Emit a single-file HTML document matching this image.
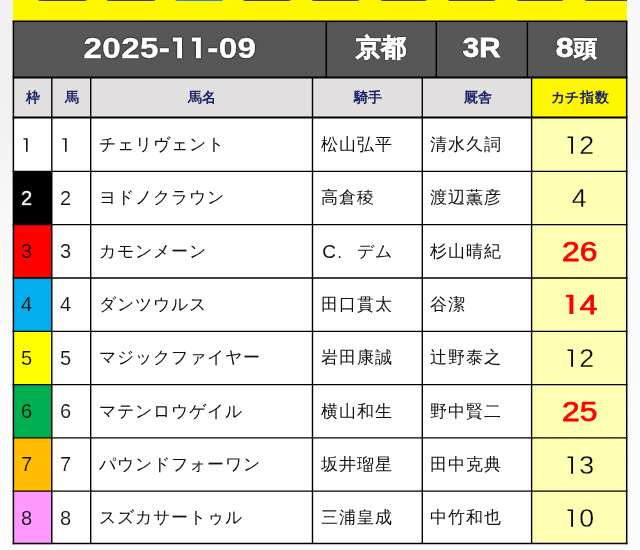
<!DOCTYPE html>
<html><head><meta charset="utf-8">
<style>
html,body{margin:0;padding:0;}
body{width:640px;height:550px;overflow:hidden;position:relative;
  background:linear-gradient(to right,transparent 13px,#fcfcfc 13px,#fcfcfc 627px,transparent 627px),linear-gradient(#f8f8f8 0px,#fafafa 300px,#fcfcfc 550px);
  font-family:"Liberation Sans",sans-serif;}
svg.g{position:absolute;left:0;top:0;}
.t{position:absolute;white-space:nowrap;line-height:1;}
.h1{color:#fff;font-weight:bold;text-align:center;text-shadow:0 0 1px #000,0 0 1px #000,0 0 2px #000;}
.h1 span{display:inline-block;}
.h2{color:#1a2466;font-weight:bold;font-size:14px;text-align:center;}
.n{color:#111;font-size:20px;}
.nm{color:#111;font-size:17px;letter-spacing:1.05px;}
.ix{font-size:25.5px;color:#000;text-align:center;left:532px;width:95px;-webkit-text-stroke:0.3px #ffffb4;}
.ix span{display:inline-block;transform:scaleX(1.05);}
.ix.red{font-size:28.5px;color:#f00;font-weight:normal;-webkit-text-stroke:0.75px #f00;}
.ix.red span{transform:scaleX(1.12);}
.one{width:.556em;height:.74em;vertical-align:baseline;fill:currentColor;overflow:visible;}
</style></head><body>
<svg class="g" width="640" height="550" viewBox="0 0 640 550">
<defs><linearGradient id="lg" x1="0" y1="0" x2="0" y2="550" gradientUnits="userSpaceOnUse"><stop offset="0" stop-color="#f0f0f1"/><stop offset="0.2" stop-color="#f1f1f1"/><stop offset="0.36" stop-color="#f7f7f7"/><stop offset="0.5" stop-color="#fafafa"/><stop offset="0.75" stop-color="#fdfdfd"/><stop offset="1" stop-color="#fdfdfd"/></linearGradient></defs>
<rect x="0" y="0" width="13.2" height="550" fill="url(#lg)"/>
<rect x="13" y="0" width="614" height="21.5" fill="#fff700"/>
<clipPath id="cb"><rect x="13" y="0" width="614" height="21"/></clipPath><g clip-path="url(#cb)">
<rect x="37.5" y="-6" width="50" height="7" rx="3" fill="#3c3c4a"/>
<rect x="106" y="-6" width="50" height="7" rx="3" fill="#3c3c4a"/>
<rect x="174.5" y="-6" width="49.5" height="7" rx="3" fill="#3b80f0"/>
<rect x="242.5" y="-6" width="49" height="7" rx="3" fill="#3c3c4a"/>
<rect x="311" y="-6" width="49" height="7" rx="3" fill="#3c3c4a"/>
<rect x="380" y="-6" width="47.5" height="7" rx="3" fill="#3c3c4a"/>
<rect x="447.5" y="-6" width="48.5" height="7" rx="3" fill="#3c3c4a"/>
<rect x="516" y="-6" width="48" height="7" rx="3" fill="#3c3c4a"/>
<rect x="584" y="-6" width="50" height="7" rx="3" fill="#3c3c4a"/>
</g>
<rect x="13" y="21" width="614" height="56.5" fill="#575757"/>
<rect x="13" y="77.5" width="614" height="40" fill="#e1dfe0"/>
<rect x="531.6" y="77.5" width="95.4" height="40" fill="#fff700"/>
<rect x="13" y="117.6" width="614" height="426" fill="#ffffff"/>
<rect x="531.6" y="117.6" width="95.4" height="426" fill="#ffffb4"/>
<rect x="13" y="117.6" width="38.8" height="53.3" fill="#ffffff"/>
<rect x="13" y="171.3" width="38.8" height="53.3" fill="#000000"/>
<rect x="13" y="224.6" width="38.8" height="53.3" fill="#ff0000"/>
<rect x="13" y="277.9" width="38.8" height="53.3" fill="#05aeee"/>
<rect x="13" y="331.2" width="38.8" height="53.3" fill="#ffff00"/>
<rect x="13" y="384.5" width="38.8" height="53.3" fill="#00b050"/>
<rect x="13" y="437.8" width="38.8" height="53.3" fill="#ffbc00"/>
<rect x="13" y="491.1" width="38.8" height="53.3" fill="#ff98ff"/>
<g stroke="#000" fill="none"><line x1="12.6" y1="21.30" x2="627.4" y2="21.30" stroke-width="1.5" stroke="#000018"/>
<line x1="12.6" y1="77.50" x2="627.4" y2="77.50" stroke-width="2" stroke="#000"/>
<line x1="12.6" y1="117.60" x2="627.4" y2="117.60" stroke-width="2" stroke="#000"/>
<line x1="12.6" y1="171.40" x2="627.4" y2="171.40" stroke-width="1.3" stroke="#000"/>
<line x1="12.6" y1="224.70" x2="627.4" y2="224.70" stroke-width="1.3" stroke="#000"/>
<line x1="12.6" y1="278.00" x2="627.4" y2="278.00" stroke-width="1.3" stroke="#000"/>
<line x1="12.6" y1="331.30" x2="627.4" y2="331.30" stroke-width="1.3" stroke="#000"/>
<line x1="12.6" y1="384.60" x2="627.4" y2="384.60" stroke-width="1.3" stroke="#000"/>
<line x1="12.6" y1="437.90" x2="627.4" y2="437.90" stroke-width="1.3" stroke="#000"/>
<line x1="12.6" y1="491.20" x2="627.4" y2="491.20" stroke-width="1.3" stroke="#000"/>
<line x1="12.6" y1="543.60" x2="627.4" y2="543.60" stroke-width="1.5" stroke="#000"/>
<line x1="13.4" y1="21" x2="13.4" y2="544.3" stroke-width="1.5"/>
<line x1="626.7" y1="21" x2="626.7" y2="544.3" stroke-width="1.5"/>
<line x1="326.3" y1="21" x2="326.3" y2="77.5" stroke-width="1.5"/>
<line x1="436.3" y1="21" x2="436.3" y2="77.5" stroke-width="1.5"/>
<line x1="527.4" y1="21" x2="527.4" y2="77.5" stroke-width="1.5"/>
<line x1="51.8" y1="77.5" x2="51.8" y2="544" stroke-width="1.4"/>
<line x1="90.7" y1="77.5" x2="90.7" y2="544" stroke-width="1.4"/>
<line x1="312.5" y1="77.5" x2="312.5" y2="544" stroke-width="1.4"/>
<line x1="422.3" y1="77.5" x2="422.3" y2="544" stroke-width="1.4"/>
<line x1="531.6" y1="77.5" x2="531.6" y2="544" stroke-width="1.4"/></g>
</svg>
<div id="tx" style="position:absolute;left:0;top:0;width:640px;height:550px;will-change:transform;">
<div class="t h1" style="left:13px;width:313px;top:33px;font-size:30px;letter-spacing:0.3px;-webkit-text-stroke:0.4px #fff;"><span style="transform:scaleX(1.11)">2025-<svg class="one" style="filter:drop-shadow(0 0 1px #000)" viewBox="0 0 556 740"><path d="M215,740 L215,182 L87,182 L87,52 L360,52 L360,740 Z"/></svg><svg class="one" style="filter:drop-shadow(0 0 1px #000)" viewBox="0 0 556 740"><path d="M215,740 L215,182 L87,182 L87,52 L360,52 L360,740 Z"/></svg>-09</span></div>
<div class="t h1" style="left:326px;width:110px;top:35.3px;font-size:25px;-webkit-text-stroke:0.8px #fff;">京都</div>
<div class="t h1" style="left:436px;width:91px;top:34.3px;font-size:27.5px;-webkit-text-stroke:0.8px #fff;"><span style="transform:scaleX(1.07)">3R</span></div>
<div class="t h1" style="left:527px;width:100px;top:34px;font-size:28px;-webkit-text-stroke:0.8px #fff;"><span style="transform:scaleX(1.15);margin-right:2px">8</span><span style="font-size:23px;-webkit-text-stroke:0.7px #fff;vertical-align:1px">頭</span></div>
<div class="t h2" style="left:13px;width:39px;top:90px;">枠</div>
<div class="t h2" style="left:52px;width:39px;top:90px;">馬</div>
<div class="t h2" style="left:91px;width:222px;top:90px;">馬名</div>
<div class="t h2" style="left:313px;width:110px;top:90px;">騎手</div>
<div class="t h2" style="left:423px;width:109px;top:90px;">厩舎</div>
<div class="t h2" style="left:532px;width:95px;top:90px;letter-spacing:0.8px;padding-left:0.8px;">カチ指数</div>
<div class="t n" style="left:21px;top:134.4px;color:#111;-webkit-text-stroke:0.15px #ffffff;"><svg class="one" viewBox="0 0 556 740"><path d="M252,740 L252,120 L122,120 L122,58 L332,58 L332,740 Z"/></svg></div>
<div class="t n" style="left:60px;top:134.4px;-webkit-text-stroke:0.15px #fff;"><svg class="one" viewBox="0 0 556 740"><path d="M252,740 L252,120 L122,120 L122,58 L332,58 L332,740 Z"/></svg></div>
<div class="t nm" style="left:99px;top:136.0px;">チェリヴェント</div>
<div class="t nm" style="left:320.6px;top:136.0px;">松山弘平</div>
<div class="t nm" style="left:429.9px;top:136.0px;">清水久詞</div>
<div class="t ix" style="top:132.7px;"><span><svg class="one" viewBox="0 0 556 740"><path d="M257,740 L257,113 L122,113 L122,58 L327,58 L327,740 Z"/></svg>2</span></div>
<div class="t n" style="left:21px;top:187.7px;color:#fff;text-shadow:0 0 1.5px #bbb;">2</div>
<div class="t n" style="left:60px;top:187.7px;-webkit-text-stroke:0.15px #fff;">2</div>
<div class="t nm" style="left:99px;top:189.3px;">ヨドノクラウン</div>
<div class="t nm" style="left:320.6px;top:189.3px;">高倉稜</div>
<div class="t nm" style="left:429.9px;top:189.3px;">渡辺薫彦</div>
<div class="t ix" style="top:186.0px;"><span>4</span></div>
<div class="t n" style="left:21px;top:241.0px;color:#200;-webkit-text-stroke:0.15px #ff0000;">3</div>
<div class="t n" style="left:60px;top:241.0px;-webkit-text-stroke:0.15px #fff;">3</div>
<div class="t nm" style="left:99px;top:242.6px;">カモンメーン</div>
<div class="t" style="left:322.2px;top:242.3px;font-size:19px;color:#111;">C</div>
<div class="t" style="left:337.2px;top:244px;font-size:17px;color:#111;">.</div>
<div class="t nm" style="left:357px;top:242.6px;">デム</div>
<div class="t nm" style="left:429.9px;top:242.6px;">杉山晴紀</div>
<div class="t ix red" style="top:237.1px;"><span>26</span></div>
<div class="t n" style="left:21px;top:294.3px;color:#111;-webkit-text-stroke:0.15px #05aeee;">4</div>
<div class="t n" style="left:60px;top:294.3px;-webkit-text-stroke:0.15px #fff;">4</div>
<div class="t nm" style="left:99px;top:295.9px;">ダンツウルス</div>
<div class="t nm" style="left:320.6px;top:295.9px;">田口貫太</div>
<div class="t nm" style="left:429.9px;top:295.9px;">谷潔</div>
<div class="t ix red" style="top:290.4px;"><span><svg class="one" viewBox="0 0 556 740"><path d="M230,740 L230,148 L122,148 L122,58 L354,58 L354,740 Z"/></svg>4</span></div>
<div class="t n" style="left:21px;top:347.6px;color:#111;-webkit-text-stroke:0.15px #ffff00;">5</div>
<div class="t n" style="left:60px;top:347.6px;-webkit-text-stroke:0.15px #fff;">5</div>
<div class="t nm" style="left:99px;top:349.2px;">マジックファイヤー</div>
<div class="t nm" style="left:320.6px;top:349.2px;">岩田康誠</div>
<div class="t nm" style="left:429.9px;top:349.2px;">辻野泰之</div>
<div class="t ix" style="top:345.9px;"><span><svg class="one" viewBox="0 0 556 740"><path d="M257,740 L257,113 L122,113 L122,58 L327,58 L327,740 Z"/></svg>2</span></div>
<div class="t n" style="left:21px;top:400.9px;color:#111;-webkit-text-stroke:0.15px #00b050;">6</div>
<div class="t n" style="left:60px;top:400.9px;-webkit-text-stroke:0.15px #fff;">6</div>
<div class="t nm" style="left:99px;top:402.5px;">マテンロウゲイル</div>
<div class="t nm" style="left:320.6px;top:402.5px;">横山和生</div>
<div class="t nm" style="left:429.9px;top:402.5px;">野中賢二</div>
<div class="t ix red" style="top:397.0px;"><span>25</span></div>
<div class="t n" style="left:21px;top:454.2px;color:#111;-webkit-text-stroke:0.15px #ffbc00;">7</div>
<div class="t n" style="left:60px;top:454.2px;-webkit-text-stroke:0.15px #fff;">7</div>
<div class="t nm" style="left:99px;top:455.8px;">パウンドフォーワン</div>
<div class="t nm" style="left:320.6px;top:455.8px;">坂井瑠星</div>
<div class="t nm" style="left:429.9px;top:455.8px;">田中克典</div>
<div class="t ix" style="top:452.5px;"><span><svg class="one" viewBox="0 0 556 740"><path d="M257,740 L257,113 L122,113 L122,58 L327,58 L327,740 Z"/></svg>3</span></div>
<div class="t n" style="left:21px;top:507.5px;color:#111;-webkit-text-stroke:0.15px #ff98ff;">8</div>
<div class="t n" style="left:60px;top:507.5px;-webkit-text-stroke:0.15px #fff;">8</div>
<div class="t nm" style="left:99px;top:509.1px;">スズカサートゥル</div>
<div class="t nm" style="left:320.6px;top:509.1px;">三浦皇成</div>
<div class="t nm" style="left:429.9px;top:509.1px;">中竹和也</div>
<div class="t ix" style="top:505.8px;"><span><svg class="one" viewBox="0 0 556 740"><path d="M257,740 L257,113 L122,113 L122,58 L327,58 L327,740 Z"/></svg>0</span></div>
</div>
</body></html>
